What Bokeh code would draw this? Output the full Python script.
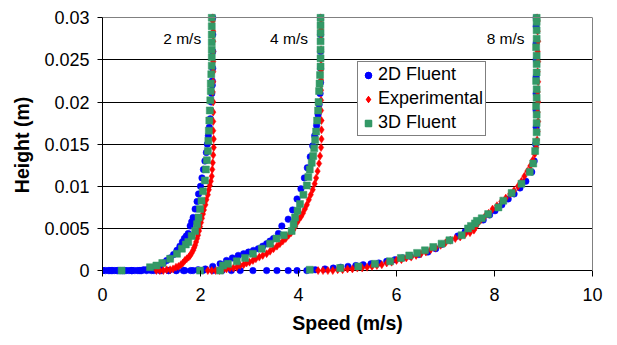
from bokeh.plotting import figure
from bokeh.models import Range1d, FixedTicker, CustomJSTickFormatter, LinearAxis, Label
from bokeh.embed import file_html
from bokeh.resources import INLINE

FONT = "Liberation Sans"

# Free-stream speeds of the three profiles (m/s)
speeds = [2, 4, 8]

# 2D Fluent profiles: (speed m/s, height m)
fluent2d_2 = [(0.00, 0), (0.06, 0), (0.12, 0), (0.18, 0), (0.24, 0), (0.30, 0), (0.36, 0), (0.42, 0),
              (0.48, 0), (0.54, 0), (0.60, 0), (0.66, 0), (0.72, 0), (0.78, 0), (0.84, 0.0001),
              (0.90, 0.0001), (0.96, 0.0001), (1.02, 0.0002), (1.10, 0.0004), (1.17, 0.0006),
              (1.24, 0.0009), (1.31, 0.0012), (1.38, 0.0015), (1.45, 0.0019), (1.52, 0.0024),
              (1.58, 0.0029), (1.63, 0.0034), (1.67, 0.0038), (1.71, 0.0041), (1.75, 0.0044),
              (1.79, 0.0053), (1.82, 0.0058), (1.85, 0.0063), (1.89, 0.0073), (1.93, 0.0082),
              (1.96, 0.0091), (2.00, 0.0100), (2.03, 0.0110), (2.06, 0.0120), (2.09, 0.0130),
              (2.12, 0.0140), (2.14, 0.0150), (2.16, 0.0160), (2.18, 0.0170), (2.20, 0.0180),
              (2.21, 0.0190), (2.22, 0.0200), (2.23, 0.0210), (2.24, 0.0220), (2.24, 0.0225),
              (2.25, 0.0240), (2.25, 0.0260), (2.25, 0.0280), (2.25, 0.0300)]
fluent2d_4 = [(0.00, 0), (0.15, 0), (0.30, 0), (0.45, 0), (0.60, 0), (0.75, 0), (0.90, 0), (1.05, 0),
              (1.20, 0), (1.35, 0), (1.50, 0), (1.65, 0), (1.80, 0), (1.95, 0.0001), (2.10, 0.0002),
              (2.25, 0.0005), (2.40, 0.0008), (2.53, 0.0012), (2.65, 0.0015), (2.77, 0.0018),
              (2.88, 0.0020), (2.98, 0.0022), (3.08, 0.0024), (3.18, 0.0026), (3.27, 0.0029),
              (3.35, 0.0032), (3.42, 0.0035), (3.49, 0.0038), (3.59, 0.0044), (3.66, 0.0053),
              (3.79, 0.0061), (3.88, 0.0072), (3.97, 0.0085), (4.05, 0.0097), (4.12, 0.0110),
              (4.18, 0.0122), (4.24, 0.0135), (4.29, 0.0148), (4.33, 0.0160), (4.37, 0.0172),
              (4.40, 0.0185), (4.42, 0.0197), (4.44, 0.0210), (4.45, 0.0223), (4.45, 0.0240),
              (4.45, 0.0260), (4.45, 0.0280), (4.45, 0.0300)]
fluent2d_8 = [(0.00, 0), (0.20, 0), (0.40, 0), (0.60, 0), (0.80, 0), (1.00, 0), (1.17, 0), (1.35, 0),
              (1.51, 0), (1.68, 0), (1.85, 0), (2.05, 0), (2.25, 0), (2.44, 0), (2.63, 0), (2.81, 0),
              (3.07, 0), (3.35, 0), (3.56, 0), (3.79, 0), (3.97, 0), (4.17, 0), (4.34, 0.0001),
              (4.54, 0.0002), (4.71, 0.0003), (4.86, 0.0004), (5.01, 0.0005), (5.17, 0.0006),
              (5.32, 0.0007), (5.48, 0.0008), (5.64, 0.0009), (5.80, 0.0011), (5.97, 0.0013),
              (6.12, 0.0015), (6.28, 0.0017), (6.46, 0.0019), (6.64, 0.0022), (6.80, 0.0026),
              (6.92, 0.0031), (7.09, 0.0036), (7.25, 0.0041), (7.40, 0.0046), (7.55, 0.0052),
              (7.64, 0.0057), (7.77, 0.0060), (7.90, 0.0066), (8.01, 0.0071), (8.15, 0.0078),
              (8.28, 0.0085), (8.40, 0.0091), (8.52, 0.0098), (8.64, 0.0106), (8.76, 0.0117),
              (8.81, 0.0130), (8.84, 0.0150), (8.85, 0.0170), (8.85, 0.0190), (8.85, 0.0210),
              (8.85, 0.0230), (8.85, 0.0250), (8.85, 0.0270), (8.85, 0.0290), (8.85, 0.0300)]

# Experimental profiles
experimental_2 = [(1.10, 0), (1.17, 0), (1.24, 0), (1.31, 0.0001), (1.38, 0.0001), (1.44, 0.0002),
                  (1.50, 0.0004), (1.55, 0.0005), (1.60, 0.0007), (1.64, 0.0009), (1.68, 0.0012),
                  (1.72, 0.0014), (1.76, 0.0016), (1.79, 0.0018), (1.82, 0.0021), (1.85, 0.0024),
                  (1.87, 0.0027), (1.89, 0.0030), (1.91, 0.0034), (1.93, 0.0038), (1.95, 0.0042),
                  (1.97, 0.0047), (1.99, 0.0052), (2.01, 0.0057), (2.03, 0.0062), (2.05, 0.0067),
                  (2.07, 0.0072), (2.10, 0.0078), (2.12, 0.0084), (2.15, 0.0090), (2.17, 0.0096),
                  (2.19, 0.0101), (2.21, 0.0106), (2.23, 0.0112), (2.24, 0.0120), (2.25, 0.0128),
                  (2.26, 0.0137), (2.27, 0.0146), (2.27, 0.0156), (2.26, 0.0166), (2.26, 0.0177),
                  (2.26, 0.0188), (2.26, 0.0200), (2.25, 0.0212), (2.26, 0.0224), (2.26, 0.0236),
                  (2.26, 0.0248), (2.26, 0.0260), (2.26, 0.0272), (2.26, 0.0284), (2.25, 0.0296),
                  (2.25, 0.0300)]
experimental_4 = [(2.15, 0), (2.23, 0), (2.31, 0), (2.39, 0), (2.46, 0.0001), (2.53, 0.0002),
                  (2.60, 0.0003), (2.67, 0.0003), (2.74, 0.0004), (2.81, 0.0006), (2.88, 0.0007),
                  (2.94, 0.0009), (3.00, 0.0010), (3.07, 0.0012), (3.13, 0.0014), (3.20, 0.0016),
                  (3.27, 0.0018), (3.35, 0.0020), (3.42, 0.0023), (3.49, 0.0026), (3.56, 0.0029),
                  (3.62, 0.0032), (3.68, 0.0035), (3.74, 0.0038), (3.80, 0.0042), (3.85, 0.0045),
                  (3.89, 0.0048), (3.93, 0.0052), (3.97, 0.0057), (4.01, 0.0061), (4.05, 0.0064),
                  (4.09, 0.0068), (4.13, 0.0073), (4.17, 0.0078), (4.21, 0.0084), (4.25, 0.0090),
                  (4.29, 0.0096), (4.33, 0.0103), (4.36, 0.0110), (4.39, 0.0118), (4.42, 0.0127),
                  (4.44, 0.0136), (4.46, 0.0146), (4.47, 0.0156), (4.47, 0.0167), (4.47, 0.0178),
                  (4.46, 0.0190), (4.46, 0.0202), (4.46, 0.0214), (4.46, 0.0226), (4.46, 0.0238),
                  (4.46, 0.0250), (4.46, 0.0262), (4.46, 0.0274), (4.46, 0.0286), (4.46, 0.0298),
                  (4.45, 0.0300)]
experimental_8 = [(4.40, 0), (4.50, 0), (4.60, 0), (4.70, 0), (4.80, 0.0001), (4.90, 0.0001),
                  (5.00, 0.0002), (5.10, 0.0002), (5.20, 0.0003), (5.30, 0.0003), (5.40, 0.0004),
                  (5.50, 0.0005), (5.60, 0.0006), (5.70, 0.0007), (5.80, 0.0009), (5.90, 0.0010),
                  (6.00, 0.0012), (6.10, 0.0013), (6.20, 0.0015), (6.30, 0.0016), (6.40, 0.0018),
                  (6.50, 0.0020), (6.60, 0.0022), (6.70, 0.0025), (6.80, 0.0027), (6.90, 0.0030),
                  (7.00, 0.0033), (7.10, 0.0036), (7.20, 0.0038), (7.30, 0.0040), (7.40, 0.0043),
                  (7.50, 0.0045), (7.58, 0.0048), (7.62, 0.0052), (7.66, 0.0056), (7.72, 0.0060),
                  (7.80, 0.0064), (7.88, 0.0068), (7.96, 0.0073), (8.05, 0.0077), (8.14, 0.0082),
                  (8.23, 0.0086), (8.32, 0.0091), (8.40, 0.0095), (8.48, 0.0100), (8.55, 0.0106),
                  (8.61, 0.0112), (8.67, 0.0118), (8.73, 0.0124), (8.78, 0.0131), (8.82, 0.0138),
                  (8.85, 0.0146), (8.87, 0.0155), (8.88, 0.0165), (8.89, 0.0177), (8.88, 0.0188),
                  (8.89, 0.0200), (8.88, 0.0212), (8.89, 0.0224), (8.88, 0.0236), (8.89, 0.0248),
                  (8.88, 0.0260), (8.89, 0.0272), (8.88, 0.0284), (8.88, 0.0296), (8.87, 0.0300)]

# 3D Fluent profiles
fluent3d_2 = [(0.39, 0), (0.97, 0.0004), (1.10, 0.0006), (1.22, 0.0009), (1.38, 0.0014), (1.52, 0.0020),
              (1.62, 0.0026), (1.70, 0.0031), (1.75, 0.0034), (1.82, 0.0041), (1.89, 0.0047),
              (1.93, 0.0055), (1.96, 0.0063), (1.99, 0.0073), (2.02, 0.0083), (2.05, 0.0094),
              (2.09, 0.0107), (2.11, 0.0120), (2.13, 0.0131), (2.15, 0.0142), (2.16, 0.0154),
              (2.17, 0.0166), (2.18, 0.0178), (2.19, 0.0190), (2.20, 0.0202), (2.21, 0.0213),
              (2.21, 0.0222), (2.22, 0.0233), (2.23, 0.0243), (2.23, 0.0253), (2.23, 0.0262),
              (2.23, 0.0271), (2.23, 0.0280), (2.23, 0.0290), (2.23, 0.0300)]
fluent3d_4 = [(1.99, 0), (2.46, 0.0006), (2.56, 0.0008), (2.74, 0.0011), (2.91, 0.0015), (3.07, 0.0020),
              (3.25, 0.0026), (3.42, 0.0032), (3.55, 0.0038), (3.70, 0.0042), (3.86, 0.0047),
              (3.90, 0.0055), (3.93, 0.0063), (3.98, 0.0071), (4.03, 0.0079), (4.10, 0.0090),
              (4.17, 0.0101), (4.20, 0.0111), (4.23, 0.0120), (4.27, 0.0128), (4.30, 0.0136),
              (4.32, 0.0145), (4.34, 0.0155), (4.36, 0.0165), (4.38, 0.0178), (4.40, 0.0190),
              (4.41, 0.0200), (4.42, 0.0213), (4.43, 0.0222), (4.44, 0.0232), (4.45, 0.0242),
              (4.45, 0.0252), (4.45, 0.0262), (4.45, 0.0272), (4.45, 0.0282), (4.45, 0.0291),
              (4.45, 0.0300)]
fluent3d_8 = [(2.40, 0), (4.23, 0.0001), (4.85, 0.0003), (5.22, 0.0005), (5.56, 0.0008), (5.87, 0.0011),
              (6.09, 0.0015), (6.26, 0.0018), (6.42, 0.0021), (6.58, 0.0024), (6.75, 0.0028),
              (6.92, 0.0032), (7.08, 0.0036), (7.33, 0.0042), (7.46, 0.0050), (7.52, 0.0053),
              (7.60, 0.0056), (7.64, 0.0059), (7.74, 0.0062), (7.87, 0.0067), (8.08, 0.0075),
              (8.18, 0.0083), (8.35, 0.0092), (8.55, 0.0103), (8.72, 0.0117), (8.79, 0.0127),
              (8.83, 0.0142), (8.85, 0.0153), (8.86, 0.0164), (8.86, 0.0175), (8.86, 0.0185),
              (8.85, 0.0195), (8.86, 0.0205), (8.86, 0.0215), (8.85, 0.0225), (8.86, 0.0235),
              (8.86, 0.0245), (8.86, 0.0255), (8.85, 0.0265), (8.86, 0.0275), (8.86, 0.0285),
              (8.86, 0.0295), (8.86, 0.0300)]

x_ticks = [0, 2, 4, 6, 8, 10]
y_ticks = [0, 0.005, 0.01, 0.015, 0.02, 0.025, 0.03]

# where the speed captions sit (data units)
caption_x = [1.24, 3.42, 7.84]
caption_y = 0.0275

# a little room below zero so markers on the floor are not cut in half
p = figure(width=617, height=345, x_range=Range1d(0, 10), y_range=Range1d(-0.0007, 0.0305),
           output_backend="svg", toolbar_location=None,
           min_border_left=102, min_border_right=25, min_border_top=13, min_border_bottom=69)
p.outline_line_color = None
p.background_fill_color = "white"
p.border_fill_color = "white"

xa = p.below[0]
ya = p.left[0]

# horizontal gridlines; the one at zero doubles as the x-axis line
p.xgrid.visible = False
p.ygrid.ticker = FixedTicker(ticks=y_ticks[:-1])
p.ygrid.grid_line_color = "#000000"
p.ygrid.grid_line_width = 1

# frame edges at the top and right
top_edge = LinearAxis(ticker=FixedTicker(ticks=[]), fixed_location=0.03, bounds=(0, 10),
                      axis_line_color="#808080", major_tick_line_color=None, minor_tick_line_color=None,
                      major_label_text_font_size="0px")
right_edge = LinearAxis(ticker=FixedTicker(ticks=[]), bounds=(0, 0.03),
                        axis_line_color="#808080", major_tick_line_color=None, minor_tick_line_color=None,
                        major_label_text_font_size="0px")
p.add_layout(top_edge, "above")
p.add_layout(right_edge, "right")

# bottom axis sits on the frame edge; its ticks reach up to the zero line
xa.ticker = FixedTicker(ticks=x_ticks)
xa.axis_label = "Speed (m/s)"
xa.axis_line_color = None
xa.major_tick_in = 6
xa.major_tick_out = 0
xa.major_label_standoff = 11
xa.axis_label_standoff = 8

ya.bounds = (0, 0.03)
ya.ticker = FixedTicker(ticks=y_ticks)
ya.formatter = CustomJSTickFormatter(code="return tick.toString();")
ya.axis_label = "Height (m)"
ya.axis_line_color = "black"
ya.major_tick_out = 5
ya.major_tick_in = 0
ya.major_label_standoff = 8
ya.axis_label_standoff = 8

for ax in (xa, ya):
    ax.major_tick_line_color = "black"
    ax.minor_tick_line_color = None
    ax.major_label_text_font = FONT
    ax.major_label_text_font_size = "18px"
    ax.major_label_text_color = "black"
    ax.axis_label_text_font = FONT
    ax.axis_label_text_font_size = "19.5px"
    ax.axis_label_text_font_style = "bold"
    ax.axis_label_text_color = "black"


def cols(pairs):
    return [a for a, _ in pairs], [b for _, b in pairs]


for series in (fluent2d_2, fluent2d_4, fluent2d_8):
    xs, ys = cols(series)
    p.scatter(xs, ys, marker="circle", size=6.5, fill_color="#0000FF", line_color="#0000FF",
              line_width=0.5, legend_label="2D Fluent")
for series in (experimental_2, experimental_4, experimental_8):
    xs, ys = cols(series)
    p.scatter(xs, ys, marker="diamond", size=8, fill_color="#FF0000", line_color="#FF0000",
              line_width=0.5, legend_label="Experimental")
for series in (fluent3d_2, fluent3d_4, fluent3d_8):
    xs, ys = cols(series)
    p.scatter(xs, ys, marker="square", size=7, fill_color="#339966", line_color="#339966",
              line_width=0.5, legend_label="3D Fluent")

for s, cx in zip(speeds, caption_x):
    p.add_layout(Label(x=cx, y=caption_y, text=f"{s} m/s", text_font=FONT, text_font_size="15.5px",
                       text_color="black", text_baseline="alphabetic", text_align="left"))

lg = p.legend[0]
lg.location = (255, 140)
lg.label_text_font = FONT
lg.label_text_font_size = "18px"
lg.label_text_color = "black"
lg.glyph_width = 16
lg.glyph_height = 20
lg.label_height = 20
lg.spacing = 3
lg.padding = 2
lg.label_standoff = 2
lg.margin = 0
lg.border_line_color = "black"
lg.border_line_width = 1
lg.background_fill_color = "white"
lg.background_fill_alpha = 1

open("out.html", "w").write(file_html(p, INLINE))
